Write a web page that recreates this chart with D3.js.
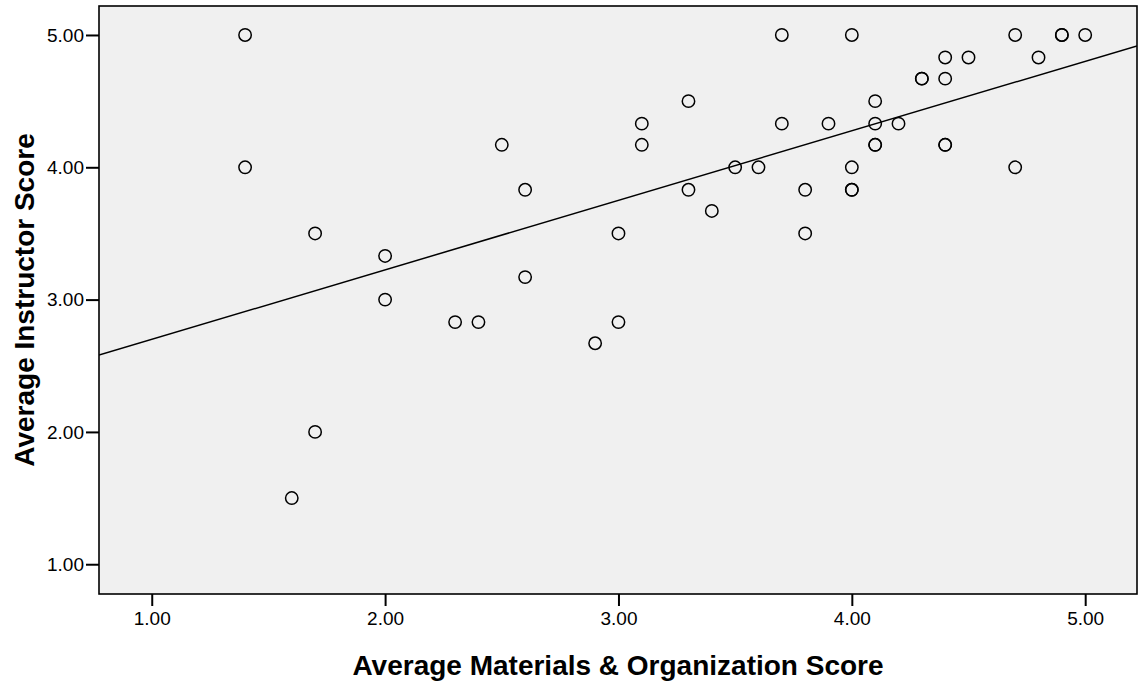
<!DOCTYPE html>
<html>
<head>
<meta charset="utf-8">
<script src="https://cdn.jsdelivr.net/npm/d3@7"></script>
<style>
  html, body { margin: 0; padding: 0; background: #ffffff; }
  svg { display: block; font-family: "Liberation Sans", Arial, sans-serif; }
</style>
</head>
<body>
<svg id="chart" width="1138" height="687"></svg>
<script>
// Average materials & organization score per respondent
const materialsScore = [
  1.40, 1.40, 1.70, 1.70, 1.60, 2.00, 2.00, 2.30, 2.40, 2.50,
  2.60, 2.60, 2.90, 3.00, 3.00, 3.10, 3.10, 3.30, 3.30, 3.40,
  3.50, 3.60, 3.70, 3.70, 3.80, 3.80, 3.90, 4.00, 4.00, 4.00,
  4.00, 4.10, 4.10, 4.10, 4.10, 4.20, 4.30, 4.30, 4.40, 4.40,
  4.40, 4.40, 4.50, 4.70, 4.70, 4.80, 4.90, 4.90, 5.00
];
// Average instructor score per respondent
const instructorScore = [
  5.00, 4.00, 3.50, 2.00, 1.50, 3.33, 3.00, 2.83, 2.83, 4.17,
  3.83, 3.17, 2.67, 3.50, 2.83, 4.33, 4.17, 4.50, 3.83, 3.67,
  4.00, 4.00, 5.00, 4.33, 3.83, 3.50, 4.33, 5.00, 4.00, 3.83,
  3.83, 4.50, 4.33, 4.17, 4.17, 4.33, 4.67, 4.67, 4.83, 4.67,
  4.17, 4.17, 4.83, 5.00, 4.00, 4.83, 5.00, 5.00, 5.00
];
// Linear fit line: [intercept, slope]
const fitLine = [2.174, 0.5254];

const xTicks = [1, 2, 3, 4, 5];
const yTicks = [1, 2, 3, 4, 5];
const xDomain = [0.774, 5.222];
const yDomain = [0.775, 5.219];

const xTitle = "Average Materials & Organization Score";
const yTitle = "Average Instructor Score";

const svg = d3.select("#chart");
const plot = { left: 99, right: 1137, top: 6, bottom: 594 };

const x = d3.scaleLinear().domain(xDomain).range([plot.left, plot.right]);
const y = d3.scaleLinear().domain(yDomain).range([plot.bottom, plot.top]);

// plot background
svg.append("rect")
  .attr("x", plot.left).attr("y", plot.top)
  .attr("width", plot.right - plot.left)
  .attr("height", plot.bottom - plot.top)
  .attr("fill", "#f0f0f0");

// clip region for the fit line
svg.append("clipPath").attr("id", "plotClip")
  .append("rect")
  .attr("x", plot.left).attr("y", plot.top)
  .attr("width", plot.right - plot.left)
  .attr("height", plot.bottom - plot.top);

// fit line across the full x range
const fitPts = xDomain.map(v => [v, fitLine[0] + fitLine[1] * v]);
svg.append("path")
  .attr("clip-path", "url(#plotClip)")
  .attr("d", d3.line().x(d => x(d[0])).y(d => y(d[1]))(fitPts))
  .attr("fill", "none")
  .attr("stroke", "#000")
  .attr("stroke-width", 1.5);

// data points
const pts = materialsScore.map((v, i) => ({ mx: v, iy: instructorScore[i] }));
svg.append("g")
  .selectAll("circle")
  .data(pts)
  .join("circle")
  .attr("cx", d => x(d.mx))
  .attr("cy", d => y(d.iy))
  .attr("r", 6.2)
  .attr("fill", "none")
  .attr("stroke", "#000")
  .attr("stroke-width", 1.5);

// axes
const xAxis = d3.axisBottom(x).tickValues(xTicks).tickFormat(d3.format(".2f"))
  .tickSizeOuter(0).tickSizeInner(12).tickPadding(6);
const yAxis = d3.axisLeft(y).tickValues(yTicks).tickFormat(d3.format(".2f"))
  .tickSizeOuter(0).tickSizeInner(13).tickPadding(2);

const gx = svg.append("g").attr("transform", `translate(0,${plot.bottom})`).call(xAxis);
const gy = svg.append("g").attr("transform", `translate(${plot.left},0)`).call(yAxis);
[gx, gy].forEach(g => {
  g.select(".domain").remove();
  g.selectAll(".tick line").attr("stroke", "#000").attr("stroke-width", 2);
  g.selectAll(".tick text")
    .attr("fill", "#000")
    .style("font-family", "'Liberation Sans', Arial, sans-serif")
    .style("font-size", "19px");
});

// plot frame
svg.append("rect")
  .attr("x", plot.left).attr("y", plot.top)
  .attr("width", plot.right - plot.left)
  .attr("height", plot.bottom - plot.top)
  .attr("fill", "none")
  .attr("stroke", "#000")
  .attr("stroke-width", 1.6);

// axis titles
svg.append("text")
  .attr("x", (plot.left + plot.right) / 2)
  .attr("y", 675)
  .attr("text-anchor", "middle")
  .style("font-size", "28px")
  .style("font-weight", "bold")
  .text(xTitle);

svg.append("text")
  .attr("transform", `translate(34,${(plot.top + plot.bottom) / 2}) rotate(-90)`)
  .attr("text-anchor", "middle")
  .style("font-size", "28px")
  .style("font-weight", "bold")
  .text(yTitle);
</script>
</body>
</html>
